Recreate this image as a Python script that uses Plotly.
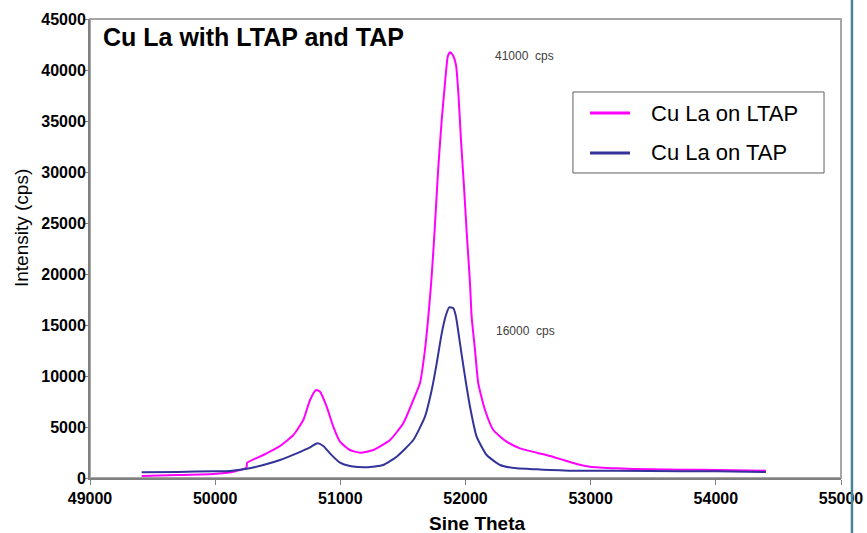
import plotly.graph_objects as go

# ---- data ----
ltap_x = [49413, 49700, 49985, 50145, 50250, 50256, 50385, 50518, 50625, 50704, 50758, 50806,
          50838, 50891, 50944, 50997, 51077, 51157, 51264, 51397, 51503, 51583, 51636, 51676,
          51703, 51725, 51745, 51763, 51783, 51810, 51836, 51858, 51876, 51898, 51924, 51943, 51964,
          51988, 52010, 52036, 52049, 52076, 52102, 52156, 52222, 52329, 52435, 52569, 52675,
          52781, 52888, 52995, 53208, 53474, 53740, 54007, 54400]
ltap_y = [200, 290, 390, 620, 1010, 1500, 2255, 3137, 4215, 5686, 7647, 8627,
          8461, 6990, 5029, 3559, 2745, 2480, 2745, 3725, 5363, 7647, 9281, 12549,
          15817, 19000, 22600, 26300, 30520, 35098, 38696, 41304, 41735, 41470, 40490, 37716, 33137,
          28559, 23990, 19085, 15817, 12549, 9281, 6667, 4706, 3559, 2908, 2484, 2157,
          1765, 1373, 1111, 948, 850, 817, 784, 719]

tap_x = [49413, 49700, 49985, 50118, 50252, 50385, 50518, 50651, 50758, 50816, 50864, 50917,
         50997, 51077, 51210, 51343, 51450, 51583, 51676, 51730, 51770, 51810, 51844, 51870,
         51903, 51924, 51956, 51996, 52036, 52089, 52169, 52276, 52409, 52569, 52675, 52829,
         52941, 53474, 54007, 54400]
tap_y = [556, 600, 655, 686, 900, 1275, 1765, 2418, 3007, 3399, 3137, 2418,
         1503, 1176, 1046, 1275, 2091, 3725, 6013, 8627, 11242, 14183, 15980, 16732,
         16634, 15817, 13203, 9935, 6990, 4052, 2255, 1275, 948, 850, 784, 719,
         719, 686, 654, 588]

series_names = ["Cu La on LTAP", "Cu La on TAP"]
series_colors = ["#FF00FF", "#333399"]
peak_labels = ["41000  cps", "16000  cps"]
peak_label_pos = [(52220, 41370), (52228, 14410)]

x_ticks = list(range(49000, 55001, 1000))
y_ticks = list(range(0, 45001, 5000))

FONT = "Liberation Sans, Arial, sans-serif"

fig = go.Figure()
for xs, ys, nm, col in zip([ltap_x, tap_x], [ltap_y, tap_y], series_names, series_colors):
    fig.add_trace(go.Scatter(x=xs, y=ys, mode="lines", name=nm, showlegend=False,
                             line=dict(color=col, width=2, shape="spline", smoothing=0.5)))

# plot-area border (light gray)
fig.add_shape(type="rect", xref="paper", yref="paper", x0=0, y0=0, x1=1, y1=1,
              line=dict(color="#A6A6A6", width=2), layer="below")
# slide frame line at right
fig.add_shape(type="line", xref="paper", yref="paper", x0=1.0146, x1=1.0146, y0=-0.13, y1=1.05,
              line=dict(color="#4A8499", width=2.5), layer="above")

# legend box (manual, to match the reference layout)
fig.add_shape(type="rect", xref="paper", yref="paper", x0=0.6431, x1=0.9774, y0=0.6645, y1=0.8410,
              line=dict(color="#606060", width=1), fillcolor="white", layer="above")
legend_y = [0.7952, 0.7081]
for nm, col, ly in zip(series_names, series_colors, legend_y):
    fig.add_shape(type="line", xref="paper", yref="paper", x0=0.6658, x1=0.7190, y0=ly, y1=ly,
                  line=dict(color=col, width=3), layer="above")
    fig.add_annotation(xref="paper", yref="paper", x=0.7440, y=ly, text=nm, showarrow=False,
                       xanchor="left", yanchor="middle",
                       font=dict(family=FONT, size=22, color="black"))

for txt, (px, py) in zip(peak_labels, peak_label_pos):
    fig.add_annotation(x=px, y=py, text=txt, showarrow=False, xanchor="left", yanchor="middle",
                       font=dict(family=FONT, size=12, color="#404040"))

fig.add_annotation(xref="paper", yref="paper", x=0.0150, y=0.961, text="<b>Cu La with LTAP and TAP</b>",
                   showarrow=False, xanchor="left", yanchor="middle",
                   font=dict(family=FONT, size=25, color="black"))
fig.add_annotation(xref="paper", yref="paper", x=-0.0905, y=0.5447, text="Intensity (cps)",
                   textangle=-90, showarrow=False, xanchor="center", yanchor="middle",
                   font=dict(family=FONT, size=19, color="black"))
fig.add_annotation(xref="paper", yref="paper", x=0.516, y=-0.100, text="<b>Sine Theta</b>",
                   showarrow=False, xanchor="center", yanchor="middle",
                   font=dict(family=FONT, size=19, color="black"))

fig.update_layout(
    width=867, height=533,
    margin=dict(l=90, r=26, t=19, b=55),
    paper_bgcolor="white", plot_bgcolor="white",
    showlegend=False,
    xaxis=dict(range=[49000, 55000], tickvals=x_ticks, ticktext=[str(v) for v in x_ticks],
               showgrid=False, zeroline=False, showline=True, linecolor="#808080", linewidth=2,
               ticks="outside", ticklen=5, tickcolor="#808080", automargin=False,
               ticklabelstandoff=0,
               tickfont=dict(family=FONT, size=16, color="black", weight="bold")),
    yaxis=dict(range=[0, 45000], tickvals=y_ticks, ticktext=[str(v) for v in y_ticks],
               showgrid=False, zeroline=False, showline=True, linecolor="#808080", linewidth=2,
               ticks="outside", ticklen=4, tickcolor="#808080", automargin=False,
               ticklabelstandoff=-5,
               tickfont=dict(family=FONT, size=16, color="black", weight="bold")),
)

fig.write_html("out.html")
